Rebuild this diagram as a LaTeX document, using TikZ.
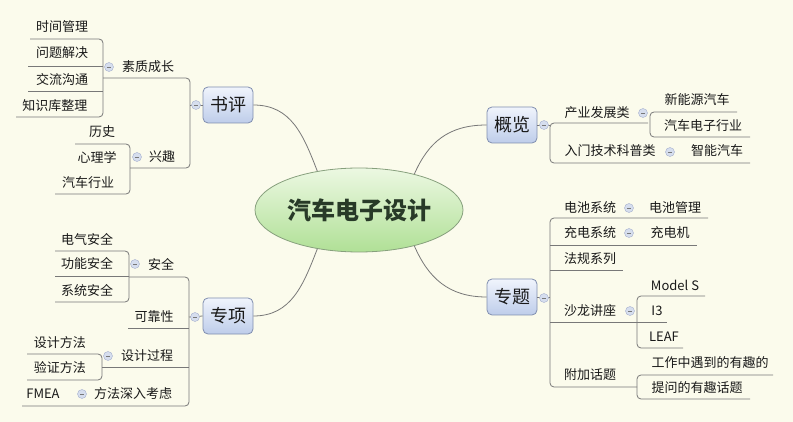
\documentclass[tikz,border=0pt]{standalone}
\usepackage{fontspec}
\setmainfont{Noto Sans CJK SC}
\usetikzlibrary{shapes.geometric}
\definecolor{bg}{RGB}{251,251,236}
\definecolor{ln}{RGB}{120,120,120}
\definecolor{boxdraw}{RGB}{128,142,175}
\definecolor{boxtop}{RGB}{240,244,252}
\definecolor{boxbot}{RGB}{190,205,234}
\definecolor{elltop}{RGB}{236,248,226}
\definecolor{ellbot}{RGB}{176,224,150}
\definecolor{elldraw}{RGB}{135,160,125}
\definecolor{colfill}{RGB}{214,222,238}
\definecolor{coldraw}{RGB}{165,175,205}
\definecolor{txt}{RGB}{25,25,25}
\tikzset{
 lbl/.style={inner sep=0pt, font=\fontsize{13}{13}\selectfont, text=txt},
 topic/.style={draw=boxdraw, line width=0.8pt, rounded corners=5pt, top color=boxtop, bottom color=boxbot,
   minimum width=50pt, minimum height=36pt, font=\fontsize{18}{18}\selectfont, text=txt, inner sep=0pt},
 conn/.style={draw=ln, line width=0.8pt, rounded corners=4pt},
 curve/.style={draw=ln, line width=0.8pt},
 colps/.style={circle, draw=coldraw, fill=colfill, minimum size=9pt, inner sep=0pt,
   path picture={\draw[ln,line width=0.6pt] ([xshift=-2.2pt]path picture bounding box.center) -- ([xshift=2.2pt]path picture bounding box.center);}},
}
\begin{document}
\begin{tikzpicture}[x=1pt,y=-1pt]
\fill[bg] (0,0) rectangle (793,422);
\useasboundingbox (0,0) rectangle (793,422);

% central
\node[ellipse, draw=elldraw, line width=0.8pt, top color=elltop, bottom color=ellbot,
  minimum width=208pt, minimum height=84pt, inner sep=0pt,
  font=\fontsize{24}{24}\selectfont\bfseries, text={rgb,255:red,40;green,58;blue,40}] (root) at (359,210) {汽车电子设计};

% topics
\node[topic] (shuping) at (228,105) {书评};
\node[topic] (zhuanxiang) at (228,316) {专项};
\node[topic] (gailan) at (512,125) {概览};
\node[topic] (zhuanti) at (512,297) {专题};

% main curves
\draw[curve] (shuping.east) .. controls +(38,0) and +(-14,-36) .. (root.137);
\draw[curve] (zhuanxiang.east) .. controls +(38,0) and +(-14,36) .. (root.223);
\draw[curve] (gailan.west) .. controls +(-38,0) and +(14,-32) .. (root.33);
\draw[curve] (zhuanti.west) .. controls +(-38,0) and +(14,32) .. (root.327);

% ---------- 书评 ----------
\coordinate (sp) at (190,105);
\draw[conn] (103,78) -- (190,78) -- (190,168) -- (130,168);
\draw[curve] (sp) -- (shuping.west);
\node[colps] (c1) at (196,105) {};
\draw[conn] (30,39) -- (103,39) -- (103,117) -- (16,117);
\draw[conn] (28,66) -- (103,66);
\draw[conn] (28,91) -- (103,91);
\node[colps] (c2) at (109,67) {};
\node[lbl] (suzhi) at (148,67) {素质成长};
\node[lbl] (t1) at (62,27) {时间管理};
\node[lbl] (t2) at (62,53) {问题解决};
\node[lbl] (t3) at (62,80) {交流沟通};
\node[lbl] (t4) at (55,106) {知识库整理};
\draw[conn] (75,144) -- (130,144) -- (130,194) -- (55,194);
\node[colps] (c3) at (137,157) {};
\node[lbl] (xingqu) at (162,157) {兴趣};
\node[lbl] (t5) at (102,132) {历史};
\node[lbl] (t6) at (97,157) {心理学};
\node[lbl] (t7) at (88,183) {汽车行业};

% ---------- 专项 ----------
\draw[conn] (129,277) -- (189,277) -- (189,406) -- (22,406);
\draw[conn] (128,328) -- (189,328);
\draw[conn] (102,367) -- (189,367);
\draw[curve] (189,317) -- (zhuanxiang.west);
\node[colps] (c4) at (195,317) {};
\draw[conn] (55,251) -- (129,251) -- (129,302) -- (55,302);
\draw[conn] (55,276) -- (129,276);
\node[colps] (c5) at (135,264) {};
\node[lbl] (anquan) at (161,264) {安全};
\node[lbl] (t8) at (87,239) {电气安全};
\node[lbl] (t9) at (87,263) {功能安全};
\node[lbl] (t10) at (87,290) {系统安全};
\node[lbl] (kekao) at (154,317) {可靠性};
\draw[conn] (27,354) -- (102,354) -- (102,380) -- (27,380);
\node[colps] (c6) at (108,356) {};
\node[lbl] (sheji) at (147,356) {设计过程};
\node[lbl] (t11) at (60,343) {设计方法};
\node[lbl] (t12) at (60,368) {验证方法};
\node[colps] (c7) at (82,394) {};
\node[lbl] (fangfa) at (133,394) {方法深入考虑};
\node[lbl] (fmea) at (43,394) {FMEA};

% ---------- 概览 ----------
\draw[curve] (gailan.east) -- (550,125);
\draw[conn] (648,123) -- (550,123) -- (550,163) -- (750,163);
\node[colps] (c8) at (544,125) {};
\draw[conn] (737,112) -- (650,112) -- (650,137) -- (750,137);
\node[colps] (c9) at (643,113) {};
\node[lbl] (chanye) at (597,113) {产业发展类};
\node[lbl] (t13) at (697,100) {新能源汽车};
\node[lbl] (t14) at (703,126) {汽车电子行业};
\node[colps] (c10) at (670,152) {};
\node[lbl] (rumen) at (610,151) {入门技术科普类};
\node[lbl] (t15) at (717,151) {智能汽车};

% ---------- 专题 ----------
\draw[curve] (zhuanti.east) -- (550,297);
\draw[conn] (708,218) -- (550,218) -- (550,387) -- (637,387);
\draw[conn] (550,245) -- (697,245);
\draw[conn] (550,270) -- (623,270);
\draw[conn] (550,322) -- (667,322);
\node[colps] (c11) at (544,298) {};
\node[colps] (c12) at (629,208) {};
\node[lbl] (dianchi) at (590,208) {电池系统};
\node[lbl] (t16) at (675,208) {电池管理};
\node[colps] (c13) at (629,233) {};
\node[lbl] (chongdian) at (590,233) {充电系统};
\node[lbl] (t17) at (670,233) {充电机};
\node[lbl] (fagui) at (590,259) {法规系列};
\draw[conn] (705,296) -- (637,296) -- (637,348) -- (683,348);
\node[colps] (c14) at (630,311) {};
\node[lbl] (shalong) at (590,311) {沙龙讲座};
\node[lbl] (t18) at (675,285) {Model S};
\node[lbl] (t19) at (657,311) {I3};
\node[lbl] (t20) at (664,337) {LEAF};
\draw[conn] (773,375) -- (637,375) -- (637,399) -- (750,399);
\node[lbl] (fujia) at (590,375) {附加话题};
\node[lbl] (t21) at (710,363) {工作中遇到的有趣的};
\node[lbl] (t22) at (697,388) {提问的有趣话题};
\end{tikzpicture}
\end{document}
